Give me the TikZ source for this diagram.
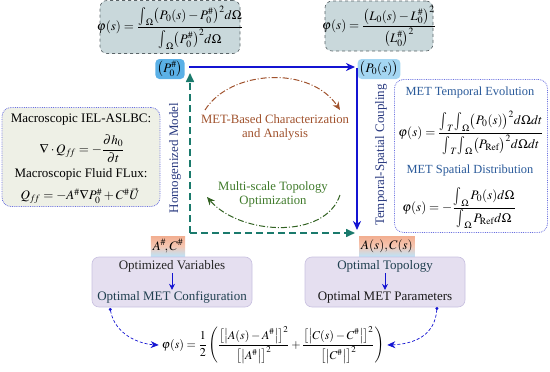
\documentclass[tikz,border=0pt]{standalone}
\usepackage{amsmath}
\usepackage{mathptmx}
\usepackage[no-math]{fontspec}
\setmainfont{Liberation Serif}
\usetikzlibrary{arrows.meta,calc}
\newcommand\mint{\mathop{\vcenter{\hbox{\scalebox{1}[1.4]{$\textstyle\int$}}}}\nolimits}
\definecolor{formfill}{HTML}{C9D8DB}
\definecolor{formedge}{HTML}{5A6468}
\definecolor{dotblue}{HTML}{6A70E0}
\definecolor{leftfill}{HTML}{EEF0E6}
\definecolor{optfill}{HTML}{E5DFF0}
\definecolor{optedge}{HTML}{C8C0E0}
\definecolor{mainblue}{HTML}{1414D2}
\definecolor{teal}{HTML}{1A7A6C}
\definecolor{brownc}{HTML}{A0522D}
\definecolor{greenc}{HTML}{3F7A2A}
\definecolor{labblue}{HTML}{2A3A80}
\definecolor{metblue}{HTML}{2A5A9A}
\definecolor{slate}{HTML}{1F3F4F}
\definecolor{pdark}{HTML}{5AB0E6}
\definecolor{plight}{HTML}{A4D6F2}
\definecolor{peach}{HTML}{F2AE90}
\definecolor{acblue}{HTML}{BFE2F6}
\begin{document}
\begin{tikzpicture}[x=1pt,y=-1pt,
  every node/.style={font=\fontsize{13}{15.5}\selectfont, inner sep=1pt},
  mathnode/.style={font=\fontsize{13}{15}\selectfont, inner sep=0pt},
  formbox/.style={draw=formedge, dashed, rounded corners=7pt, fill=formfill, line width=0.6pt},
  panel/.style={draw=dotblue, densely dotted, rounded corners=9pt, line width=0.8pt},
  optbox/.style={draw=optedge, rounded corners=7pt, fill=optfill, line width=0.6pt},
  pnode/.style={rounded corners=4pt, inner sep=2pt},
  acnode/.style={inner sep=2pt, top color=peach, bottom color=acblue, middle color=peach!70!white},
  bluearrow/.style={draw=mainblue, line width=1.6pt, -{Stealth[length=9pt,width=8pt]}},
  greenarrow/.style={draw=teal, line width=1.6pt, dash pattern=on 7pt off 4pt, -{Triangle[length=9pt,width=8pt]}},
  curvearrow/.style={line width=1pt, dash pattern=on 6pt off 2pt on 1pt off 2pt, -{Stealth[length=8pt,width=7pt]}},
  dotarrow/.style={draw=mainblue, line width=0.7pt, densely dashed, {Circle[length=3pt]}-{Stealth[length=8pt,width=7pt]}},
  vlabel/.style={rotate=90, text=labblue}
]
\useasboundingbox (0,0) rectangle (550,372);

% top formula boxes
\node[formbox, minimum width=140pt, minimum height=53pt] (f1) at (170,27) {};
\node[mathnode] (f1t) at (170,27.5) {$\varphi(s)=\dfrac{\mint_\Omega\bigl(P_0(s)-P_0^{\#}\bigr)^2 d\Omega}{\mint_\Omega\bigl(P_0^{\#}\bigr)^2 d\Omega}$};
\node[formbox, minimum width=108pt, minimum height=50pt] (f2) at (379,26) {};
\node[mathnode] (f2t) at (379,26.5) {$\varphi(s)=\dfrac{\bigl(L_0(s)-L_0^{\#}\bigr)^2}{\bigl(L_0^{\#}\bigr)^2}$};

% P nodes
\node[pnode, fill=pdark, minimum height=20pt] (p0h) at (170,69) {$\left(P_0^{\#}\right)$};
\node[pnode, fill=plight, minimum height=20pt] (p0s) at (379,69) {$\bigl(P_0(s)\bigr)$};

% A C nodes
\node[acnode, minimum height=20pt] (ach) at (168,246) {$A^{\#}\!,C^{\#}$};
\node[acnode, minimum height=20pt] (acs) at (387,246) {$A(s),C(s)$};

% corner coordinates
\coordinate (TL) at (189,67);
\coordinate (TR) at (357,67);
\coordinate (TRe) at (355,67);
\coordinate (BRe) at (357,230);
\coordinate (BL) at (190,233);
\coordinate (BLe) at (355,233);
\coordinate (TLe) at (190,73);

\draw[greenarrow] (BL) -- (TLe);
\draw[greenarrow] (BL) -- (BLe);
\draw[bluearrow] (TL) -- (TRe);
\draw[bluearrow] ([yshift=-0.8pt]TR) -- (BRe);

% vertical labels
\node[vlabel] (hm) at (175,158) {Homogenized Model};
\node[vlabel] (tsc) at (381,155) {Temporal-Spatial Coupling};

% center labels and curves
\node[text=brownc, align=center, font=\fontsize{12.7}{15}\selectfont] (met) at (275,127) {MET-Based Characterization\\[-1pt]and Analysis};
\node[text=greenc, align=center, font=\fontsize{12.7}{15}\selectfont] (mto) at (273,194) {Multi-scale Topology\\[-1pt]Optimization};
\coordinate (b1) at (205,110);
\coordinate (b2) at (340,110);
\draw[curvearrow, draw=brownc] (b1) .. controls (230,70) and (310,65) .. (b2);
\coordinate (g1) at (340,195);
\coordinate (g2) at (207,197);
\draw[curvearrow, draw=greenc!80!black] (g1) .. controls (325,240) and (240,235) .. (g2);

% left panel
\node[panel, fill=leftfill, minimum width=158pt, minimum height=99pt] (lp) at (81,157) {};
\node (l1) at (81,120) {Macroscopic IEL-ASLBC:};
\node[mathnode] (l2) at (82,149) {$\nabla\cdot Q_{f\!f}=-\dfrac{\partial h_0}{\partial t}$};
\node (l3) at (81,174) {Macroscopic Fluid FLux:};
\node[mathnode] (l4) at (80,196) {$Q_{f\!f}=-A^{\#}\nabla P_0^{\#}+C^{\#}\vec{U}$};

% right panel
\node[panel, fill=white, minimum width=153pt, minimum height=153pt] (rp) at (471,156) {};
\node[text=metblue, font=\fontsize{12.4}{15}\selectfont] (r1) at (470,93) {MET Temporal Evolution};
\node[mathnode] (r2) at (471,133) {$\varphi(s)=\dfrac{\mint_T\!\mint_\Omega\bigl(P_0(s)\bigr)^2 d\Omega dt}{\mint_T\!\mint_\Omega\bigl(P_{\mathrm{Ref}}\bigr)^2 d\Omega dt}$};
\node[text=metblue, font=\fontsize{12.4}{15}\selectfont] (r3) at (470,171) {MET Spatial Distribution};
\node[mathnode] (r4) at (459,208) {$\varphi(s)=-\dfrac{\mint_\Omega P_0(s)d\Omega}{\mint_\Omega P_{\mathrm{Ref}}d\Omega}$};

% bottom boxes
\node[optbox, minimum width=160pt, minimum height=50pt] (ob1) at (172,282) {};
\node[text=black!85] (ov) at (172,266) {Optimized Variables};
\node[text=slate] (oc) at (172,297) {Optimal MET Configuration};
\draw[draw=mainblue, line width=0.8pt, -{Stealth[length=6pt,width=6pt]}] (ov.south) -- (oc.north);
\node[optbox, minimum width=160pt, minimum height=50pt] (ob2) at (385,282) {};
\node[text=slate] (ot) at (385,266) {Optimal Topology};
\node[text=black!90] (op) at (385,297) {Optimal MET Parameters};
\draw[draw=mainblue, line width=0.8pt, -{Stealth[length=6pt,width=6pt]}] (ot.south) -- (op.north);

% bottom formula
\node[mathnode, font=\fontsize{12}{14}\selectfont] (bf) at (273,345) {$\varphi(s)=\dfrac12\left(\dfrac{\bigl[\bigl|A(s)-A^{\#}\bigr|\bigr]^2}{\bigl[\bigl|A^{\#}\bigr|\bigr]^2}+\dfrac{\bigl[\bigl|C(s)-C^{\#}\bigr|\bigr]^2}{\bigl[\bigl|C^{\#}\bigr|\bigr]^2}\right)$};
\coordinate (d1) at (110,308);
\coordinate (d2) at (437,307);
\draw[dotarrow] (d1) .. controls (115,335) and (140,344) .. ([xshift=-3pt]bf.west);
\draw[dotarrow] (d2) .. controls (435,335) and (415,344) .. ([xshift=3pt]bf.east);
\end{tikzpicture}
\end{document}
